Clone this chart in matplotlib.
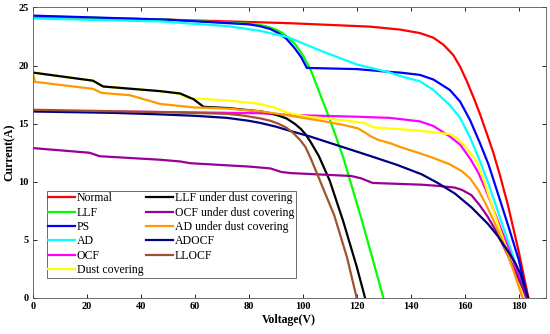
import matplotlib
matplotlib.use("Agg")
import matplotlib.pyplot as plt

plt.rcParams['font.family'] = ['Liberation Serif', 'DejaVu Serif']

# Curve data (voltage V, current A)
normal_v = [0, 50, 95, 115, 125, 136, 143.4, 148.4, 152.1, 155.8, 158.3, 160.7, 163.2, 165.7, 168.1, 170.6, 173, 176, 180, 183.6]
normal_i = [24.2, 23.95, 23.65, 23.45, 23.35, 23.1, 22.8, 22.4, 21.8, 20.9, 19.9, 18.7, 17.3, 15.8, 14.2, 12.5, 10.6, 8.0, 4.0, 0]

llf_v = [0, 50, 80, 84, 87, 90, 92.5, 95, 97.5, 100, 103, 106, 109, 112, 115, 122, 129.9]
llf_i = [24.25, 23.95, 23.6, 23.5, 23.35, 23.1, 22.8, 22.35, 21.75, 20.9, 19.6, 17.8, 16.0, 14.1, 12.1, 6.6, 0]

ps_v = [0, 50, 80, 84, 88, 91, 94, 97, 99.5, 101.5, 110, 120, 132.5, 136, 143.4, 148.4, 154.5, 158.3, 162, 165.7, 168.8, 172, 176, 180, 183.3]
ps_i = [24.3, 23.95, 23.55, 23.4, 23.15, 22.8, 22.3, 21.5, 20.7, 19.8, 19.75, 19.7, 19.45, 19.4, 19.2, 18.8, 17.9, 16.9, 15.3, 13.3, 11.5, 9.2, 6.3, 3.3, 0]

ad_v = [0, 47, 72, 84, 94.5, 107.5, 120, 132.3, 136, 143.4, 148.4, 154.5, 158.3, 162, 165.7, 169, 172.5, 176, 179.5, 183.0]
ad_i = [24.05, 23.8, 23.4, 23.0, 22.45, 21.2, 20.1, 19.4, 19.1, 18.65, 17.9, 16.6, 15.5, 13.8, 11.75, 9.7, 7.3, 4.9, 2.5, 0]

ocf_v = [0, 50, 84, 95, 120, 132.2, 136, 143.4, 148.4, 154.5, 158.3, 162, 165, 168, 171, 174, 177, 180, 182.6]
ocf_i = [16.1, 16.0, 15.9, 15.75, 15.6, 15.5, 15.4, 15.2, 14.8, 13.9, 13.2, 12.0, 10.8, 9.2, 7.4, 5.6, 3.8, 1.9, 0]

dust_v = [0, 22.3, 26.1, 47.2, 54.6, 57.5, 72, 84.4, 90, 95, 102, 114.8, 123.2, 125.8, 143.4, 154.5, 157, 160.7, 164.4, 167, 170, 173, 176, 179, 181.8]
dust_i = [19.4, 18.7, 18.2, 17.8, 17.55, 17.2, 17.0, 16.7, 16.35, 15.9, 15.6, 15.3, 15.05, 14.7, 14.4, 14.1, 13.8, 12.9, 11.75, 10.2, 8.0, 5.9, 3.9, 1.9, 0]

llfd_v = [0, 22.3, 26.1, 47.2, 54.6, 59.6, 63.3, 72, 84.4, 88, 91, 94, 97, 99.3, 101, 103, 106, 110, 115, 120, 123.1]
llfd_i = [19.4, 18.7, 18.2, 17.8, 17.6, 17.1, 16.45, 16.35, 16.06, 15.9, 15.7, 15.45, 15.0, 14.55, 14.1, 13.4, 12.2, 10.1, 6.6, 2.7, 0]

ocfd_v = [0, 21, 24.8, 47, 54.6, 58.3, 80.7, 88, 92, 95.5, 117.9, 121.6, 125.9, 144, 150, 156.3, 159, 162.5, 165.5, 168.5, 171.5, 174.5, 177.5, 180.6, 183.2]
ocfd_i = [12.9, 12.5, 12.2, 11.9, 11.75, 11.6, 11.3, 11.15, 10.85, 10.75, 10.5, 10.3, 9.9, 9.75, 9.65, 9.5, 9.3, 8.85, 8.0, 7.0, 5.8, 4.4, 2.9, 1.3, 0]

adfd_v = [0, 0.8, 22.3, 25.5, 36, 47.2, 59.6, 72, 84.4, 95, 108, 115, 120.4, 123, 125.3, 128, 132.7, 136, 143.4, 148.4, 154.5, 159, 162, 165, 168, 171, 174.5, 178, 181.4]
adfd_i = [19.4, 18.6, 18.0, 17.65, 17.45, 16.7, 16.4, 16.3, 16.06, 15.7, 15.2, 14.9, 14.6, 14.25, 13.9, 13.6, 13.3, 13.0, 12.45, 12.05, 11.5, 10.9, 10.3, 9.3, 8.0, 6.5, 4.6, 2.4, 0]

adocf_v = [0, 30, 47.2, 60, 72, 80, 84.4, 90, 95, 102, 108, 116, 125.3, 135, 144, 150, 156.3, 162.5, 168.5, 172.2, 175.8, 178.5, 180.6, 183.5]
adocf_i = [16.05, 15.93, 15.8, 15.68, 15.5, 15.25, 15.06, 14.75, 14.4, 13.95, 13.5, 12.9, 12.2, 11.45, 10.65, 9.9, 9.0, 7.8, 6.4, 5.35, 4.1, 3.1, 2.1, 0]

llocf_v = [0, 47, 72, 78, 84.4, 88, 91, 94, 96.5, 99, 101, 103, 105.5, 108.5, 111.7, 116.4, 120.0]
llocf_i = [16.2, 16.0, 15.85, 15.7, 15.45, 15.25, 15.0, 14.65, 14.2, 13.6, 13.0, 12.0, 10.6, 8.9, 7.1, 3.5, 0]

series = [
    ("Normal", normal_v, normal_i, "#ff0000"),
    ("LLF", llf_v, llf_i, "#00ff00"),
    ("PS", ps_v, ps_i, "#0000ff"),
    ("AD", ad_v, ad_i, "#00ffff"),
    ("OCF", ocf_v, ocf_i, "#ff00ff"),
    ("Dust covering", dust_v, dust_i, "#ffff00"),
    ("LLF under dust covering", llfd_v, llfd_i, "#000000"),
    ("OCF under dust covering", ocfd_v, ocfd_i, "#990099"),
    ("AD under dust covering", adfd_v, adfd_i, "#ff9900"),
    ("ADOCF", adocf_v, adocf_i, "#000080"),
    ("LLOCF", llocf_v, llocf_i, "#a0522d"),
]

x_ticks = [0, 20, 40, 60, 80, 100, 120, 140, 160, 180]
y_ticks = [0, 5, 10, 15, 20, 25]

fig = plt.figure(figsize=(5.5, 3.34), dpi=100)
ax = fig.add_axes([0.0595, 0.1078, 0.9327, 0.8698])

for name, v, i, c in series:
    ax.plot(v, i, color=c, lw=1.6, label=name, solid_joinstyle='round')

ax.set_xlim(0, 190)
ax.set_ylim(0, 25)
ax.set_xticks(x_ticks)
ax.set_yticks(y_ticks)
ax.tick_params(direction='in', top=True, right=True, length=3, width=0.6,
               labelsize=7.5, pad=3)
for lab in ax.get_xticklabels() + ax.get_yticklabels():
    lab.set_fontweight('bold')
for s in ax.spines.values():
    s.set_linewidth(0.6)
    s.set_color('#555555')

ax.set_xlabel("Voltage(V)", fontsize=8.5, fontweight='bold', labelpad=2)
ax.set_ylabel("Current(A)", fontsize=8.5, fontweight='bold', labelpad=2)

leg = ax.legend(ncol=2, loc='lower left', bbox_to_anchor=(0.027, 0.069),
                fontsize=8.5, frameon=True, fancybox=False, borderpad=0.15,
                handlelength=2.3, handletextpad=0.1, columnspacing=0.25,
                labelspacing=0.2, borderaxespad=0)
leg.get_frame().set_edgecolor('#444444')
leg.get_frame().set_linewidth(0.7)

fig.savefig("out.png", dpi=100)
